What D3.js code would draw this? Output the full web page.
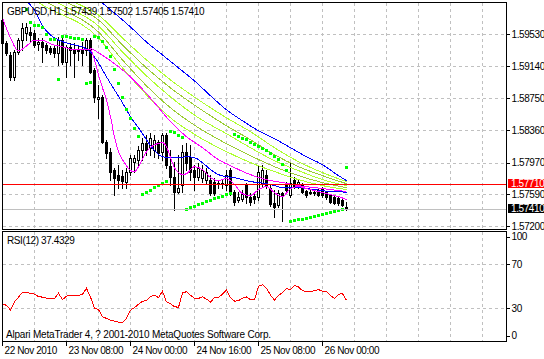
<!DOCTYPE html>
<html>
<head>
<meta charset="utf-8">
<script src="https://cdn.jsdelivr.net/npm/d3@7"></script>
<style>
  body { margin: 0; background: #fff; }
  svg { display: block; }
  svg text { font-family: "Liberation Sans", Arial, sans-serif; font-size: 10px; letter-spacing: -0.4px; fill: #000; }
  svg text.footer { letter-spacing: -0.2px; }
</style>
</head>
<body>
<div id="chart"></div>
<script>
// GBPUSD H1, one value per bar
const symbolName = "GBPUSD,H1";
const candleOpen = [
  1.59706,1.59427,1.59282,1.59016,1.59318,1.59463,1.59548,1.59560,1.59548,1.59415,
  1.59439,1.59403,1.59367,1.59367,1.59306,1.59463,1.59197,1.59379,1.59342,1.59342,
  1.59342,1.59342,1.59463,1.59100,1.58749,1.58773,1.58229,1.58108,1.57890,1.57829,
  1.57817,1.57745,1.57866,1.57987,1.58011,1.58132,1.58217,1.58156,1.58132,1.58229,
  1.58108,1.58314,1.57938,1.57805,1.57624,1.57708,1.58108,1.58047,1.57890,1.57805,
  1.57793,1.57769,1.57769,1.57745,1.57733,1.57720,1.57708,1.57890,1.57624,1.57527,
  1.57539,1.57708,1.57563,1.57575,1.57563,1.57733,1.57829,1.57672,1.57490,1.57466,
  1.57611,1.57733,1.57587,1.57769,1.57684,1.57708,1.57636,1.57624,1.57611,1.57648,
  1.57672,1.57624,1.57587,1.57563,1.57551,1.57527,1.57439];
const candleHigh = [
  1.59802,1.59451,1.59318,1.59342,1.59488,1.59669,1.59669,1.59621,1.59584,1.59488,
  1.59488,1.59427,1.59391,1.59403,1.59500,1.59500,1.59403,1.59427,1.59427,1.59403,
  1.59439,1.59488,1.59488,1.59125,1.58919,1.58798,1.58253,1.58156,1.57914,1.57950,
  1.57890,1.57914,1.58071,1.58071,1.58180,1.58277,1.58314,1.58338,1.58314,1.58253,
  1.58338,1.58338,1.58132,1.57987,1.58071,1.58192,1.58217,1.58192,1.57950,1.57975,
  1.57950,1.57914,1.57829,1.57793,1.57769,1.57769,1.57890,1.57914,1.57648,1.57624,
  1.57648,1.57733,1.57611,1.57624,1.57950,1.57950,1.57890,1.57708,1.57648,1.57648,
  1.57624,1.57745,1.57975,1.57805,1.57769,1.57733,1.57648,1.57648,1.57648,1.57672,
  1.57684,1.57636,1.57599,1.57575,1.57563,1.57551,1.57502];
const candleLow = [
  1.59391,1.59282,1.58979,1.58979,1.59294,1.59342,1.59463,1.59439,1.59379,1.59342,
  1.59197,1.59306,1.59294,1.59258,1.59161,1.59173,1.59016,1.59161,1.59016,1.59221,
  1.59161,1.59282,1.59064,1.58713,1.58519,1.58217,1.58035,1.57769,1.57587,1.57672,
  1.57672,1.57672,1.57829,1.57866,1.57950,1.58011,1.58071,1.58071,1.58047,1.58035,
  1.58011,1.57914,1.57708,1.57406,1.57611,1.57624,1.57890,1.57769,1.57648,1.57769,
  1.57745,1.57733,1.57587,1.57587,1.57672,1.57672,1.57648,1.57587,1.57466,1.57503,
  1.57515,1.57490,1.57466,1.57490,1.57527,1.57684,1.57672,1.57454,1.57321,1.57442,
  1.57261,1.57611,1.57563,1.57672,1.57672,1.57611,1.57563,1.57599,1.57587,1.57575,
  1.57563,1.57539,1.57490,1.57478,1.57466,1.57454,1.57405];
const candleClose = [
  1.59427,1.59306,1.59016,1.59318,1.59463,1.59609,1.59621,1.59524,1.59403,1.59439,
  1.59379,1.59342,1.59318,1.59306,1.59463,1.59197,1.59379,1.59342,1.59306,1.59330,
  1.59306,1.59463,1.59076,1.58773,1.58773,1.58229,1.58096,1.57866,1.57793,1.57769,
  1.57757,1.57866,1.58035,1.58035,1.58132,1.58217,1.58132,1.58277,1.58253,1.58096,
  1.58314,1.57950,1.57805,1.57624,1.57672,1.58108,1.57975,1.57866,1.57805,1.57914,
  1.57890,1.57866,1.57611,1.57611,1.57720,1.57733,1.57829,1.57624,1.57503,1.57563,
  1.57599,1.57563,1.57503,1.57539,1.57866,1.57890,1.57708,1.57478,1.57442,1.57611,
  1.57587,1.57648,1.57733,1.57684,1.57745,1.57624,1.57587,1.57611,1.57624,1.57587,
  1.57587,1.57563,1.57503,1.57490,1.57490,1.57466,1.57410];

// Parabolic SAR, null where no dot is visible
const sarValues = [
  null,null,null,null,null,null,1.59839,1.59681,1.59645,1.59645,
  1.59621,1.59536,1.59475,1.59475,1.58991,1.59512,1.59512,1.59500,1.59488,1.59488,
  1.59475,1.58943,1.58955,1.59512,1.59500,1.59451,1.59379,1.59270,1.59112,1.58943,
  1.58773,1.58628,1.58513,1.58398,1.58301,1.57599,1.57618,1.57639,1.57676,1.57700,
  1.57724,1.57748,1.58362,1.58344,1.58314,1.58281,1.57418,1.57436,1.57454,1.57472,
  1.57490,1.57509,1.57527,1.57542,1.57559,1.57575,1.57593,1.57611,1.58326,1.58301,
  1.58277,1.58259,1.58229,1.58205,1.58180,1.58156,1.58126,1.58096,1.58059,1.58023,
  1.57962,1.57890,1.57261,1.57273,1.57285,1.57297,1.57309,1.57321,1.57333,1.57345,
  1.57357,1.57369,1.57382,1.57394,1.57406,1.57418,1.57926];

// RSI(12)
const rsiValues = [
  33.7,33.0,28.5,36.2,40.3,44.8,44.3,43.9,43.0,40.9,
  40.3,39.4,39.2,39.1,43.9,38.0,41.2,42.1,41.8,41.9,
  43.0,48.4,40.3,30.3,29.0,22.6,21.0,19.5,18.6,17.6,
  17.4,21.0,28.5,30.8,33.9,36.7,37.1,40.7,42.1,39.8,
  45.7,36.0,34.4,31.7,31.0,44.3,45.2,42.1,39.4,39.1,
  40.7,38.5,36.0,39.8,40.0,43.0,47.1,39.8,36.7,37.1,
  39.4,40.5,38.0,38.0,50.2,51.6,48.4,42.1,37.6,42.1,
  44.3,48.0,47.1,50.9,49.6,46.2,45.1,45.1,46.2,47.2,
  45.7,45.7,41.6,39.1,43.0,43.4,37.4329];

// moving averages: [bar, price]
const maBlueSlow = [[20,1.60093],[24,1.59948],[28,1.59790],[32,1.59621],[36,1.59439],[40,1.59282],[44,1.59125],[48,1.58967],[52,1.58786],[56,1.58616],[60,1.58483],[64,1.58362],[68,1.58265],[72,1.58156],[76,1.58047],[80,1.57950],[84,1.57817],[86,1.57757]];
const maBlueFast = [[5,1.60044],[6,1.59948],[8,1.59827],[10,1.59633],[12,1.59524],[14,1.59463],[16,1.59427],[18,1.59403],[20,1.59379],[22,1.59318],[24,1.59185],[26,1.59016],[28,1.58858],[30,1.58701],[32,1.58531],[34,1.58398],[36,1.58253],[38,1.58120],[40,1.58047],[42,1.58035],[44,1.58035],[46,1.58047],[48,1.58035],[50,1.57975],[52,1.57890],[54,1.57829],[56,1.57805],[58,1.57793],[60,1.57769],[62,1.57745],[64,1.57733],[66,1.57720],[68,1.57696],[70,1.57672],[72,1.57672],[74,1.57672],[76,1.57660],[78,1.57648],[80,1.57636],[82,1.57624],[84,1.57624],[86,1.57611]];
const maMagentaFast = [[0,1.59730],[2,1.59488],[4,1.59330],[6,1.59391],[8,1.59463],[10,1.59463],[12,1.59415],[14,1.59391],[16,1.59367],[18,1.59342],[20,1.59342],[22,1.59342],[23,1.59221],[24,1.59040],[25,1.58882],[26,1.58737],[27,1.58531],[28,1.58289],[29,1.58108],[30,1.58011],[31,1.57938],[32,1.57878],[33,1.57866],[34,1.57926],[36,1.58108],[38,1.58192],[40,1.58217],[41,1.58168],[42,1.58035],[43,1.57914],[44,1.57854],[45,1.57829],[46,1.57841],[48,1.57926],[50,1.57890],[52,1.57793],[54,1.57757],[56,1.57781],[58,1.57708],[60,1.57599],[62,1.57575],[64,1.57648],[66,1.57684],[68,1.57611],[70,1.57563],[72,1.57660],[74,1.57684],[76,1.57660],[78,1.57636],[80,1.57611],[82,1.57587],[84,1.57563],[86,1.57527]];
const maMagentaSlow = [[22,1.59367],[26,1.59246],[30,1.59100],[34,1.58919],[38,1.58701],[42,1.58471],[46,1.58289],[50,1.58156],[54,1.58011],[58,1.57914],[62,1.57829],[66,1.57769],[70,1.57733],[74,1.57696],[78,1.57672],[82,1.57648],[86,1.57624]];
const maGreen1 = [[12,1.60069],[18,1.59923],[24,1.59766],[30,1.59488],[36,1.59221],[42,1.58979],[49,1.58737],[56,1.58519],[62,1.58350],[68,1.58156],[74,1.57987],[80,1.57854],[86,1.57745]];
const maGreen2 = [[10,1.60069],[16,1.59923],[24,1.59706],[30,1.59403],[36,1.59125],[42,1.58882],[49,1.58640],[56,1.58422],[62,1.58253],[68,1.58071],[74,1.57926],[80,1.57817],[86,1.57720]];
const maGreen3 = [[8,1.60069],[14,1.59911],[24,1.59633],[30,1.59318],[36,1.59028],[42,1.58773],[49,1.58519],[56,1.58326],[62,1.58156],[68,1.57999],[74,1.57878],[80,1.57769],[86,1.57696]];
const maGreen4 = [[6,1.60069],[12,1.59899],[24,1.59560],[30,1.59221],[36,1.58907],[42,1.58640],[49,1.58398],[56,1.58205],[62,1.58059],[68,1.57926],[74,1.57817],[80,1.57733],[86,1.57672]];
const maGreen5 = [[4,1.60069],[10,1.59887],[24,1.59488],[30,1.59125],[36,1.58798],[42,1.58519],[49,1.58289],[56,1.58108],[62,1.57975],[68,1.57866],[74,1.57769],[80,1.57696],[86,1.57648]];

const alertLevel = 1.5771;
const priceTicks = [1.5953, 1.5914, 1.5875, 1.5836, 1.5797, 1.5759, 1.5720];
const rsiTicks = [100, 70, 30, 0];
const rsiGrid = [70, 30];
const timeTickBars = [0, 16, 32, 48, 64, 80];
const timeTickLabels = ["22 Nov 2010", "23 Nov 08:00", "24 Nov 00:00", "24 Nov 16:00", "25 Nov 08:00", "26 Nov 00:00"];
const footerText = "Alpari MetaTrader 4, ? 2001-2010 MetaQuotes Software Corp.";

const svg = d3.select("#chart").append("svg")
    .attr("width", 544).attr("height", 359)
    .attr("shape-rendering", "crispEdges");

const x = d3.scaleLinear().domain([0, 126]).range([2.5, 506.5]);
const y = d3.scaleLinear().domain([1.5720, 1.5953]).range([226.5, 34.5]);
const yRsi = d3.scaleLinear().domain([0, 100]).range([341.5, 231.5]);
const px = v => Math.round(v - 0.5) + 0.5;

const defs = svg.append("defs");
defs.append("clipPath").attr("id", "clipMain").append("rect")
    .attr("x", 0).attr("y", 3).attr("width", 506).attr("height", 226);
defs.append("clipPath").attr("id", "clipRsi").append("rect")
    .attr("x", 0).attr("y", 232).attr("width", 506).attr("height", 109);

// grid
const grid = svg.append("g").attr("stroke", "#c0c0c0").attr("stroke-dasharray", "3,3");
const vBars = d3.range(8, 127, 8);
grid.selectAll(".vm").data(vBars).enter().append("line")
    .attr("x1", d => x(d)).attr("x2", d => x(d)).attr("y1", 3).attr("y2", 229);
grid.selectAll(".vr").data(vBars).enter().append("line")
    .attr("x1", d => x(d)).attr("x2", d => x(d)).attr("y1", 232).attr("y2", 341);
grid.selectAll(".hm").data(priceTicks).enter().append("line")
    .attr("x1", 3).attr("x2", 506).attr("y1", d => px(y(d))).attr("y2", d => px(y(d)));
grid.selectAll(".hr").data(rsiGrid).enter().append("line")
    .attr("x1", 3).attr("x2", 506).attr("y1", d => px(yRsi(d))).attr("y2", d => px(yRsi(d)));

// candles
const bars = d3.range(candleClose.length);
const main = svg.append("g").attr("clip-path", "url(#clipMain)");
main.selectAll(".wick").data(bars).enter().append("line")
    .attr("x1", i => x(i)).attr("x2", i => x(i))
    .attr("y1", i => Math.round(y(candleHigh[i])))
    .attr("y2", i => Math.round(y(candleLow[i])) + 1)
    .attr("stroke", "#000");

const bull = bars.filter(i => candleClose[i] >= candleOpen[i]);
const bear = bars.filter(i => candleClose[i] < candleOpen[i]);
main.selectAll(".bull").data(bull).enter().append("rect")
    .attr("x", i => x(i) - 1).attr("width", 2)
    .attr("y", i => Math.round(y(candleClose[i])) + 0.5)
    .attr("height", i => Math.max(0, Math.round(y(candleOpen[i])) - Math.round(y(candleClose[i]))))
    .attr("fill", "#fff").attr("stroke", "#000");
main.selectAll(".bear").data(bear).enter().append("rect")
    .attr("x", i => x(i) - 1.5).attr("width", 3)
    .attr("y", i => Math.round(y(candleOpen[i])))
    .attr("height", i => Math.max(1, Math.round(y(candleClose[i])) - Math.round(y(candleOpen[i])) + 1))
    .attr("fill", "#000");

// moving averages
const maLine = d3.line().x(d => x(d[0])).y(d => y(d[1])).curve(d3.curveMonotoneX);
const maSeries = [
  [maGreen1, "#adff2f"], [maGreen2, "#9acd32"], [maGreen3, "#adff2f"],
  [maGreen4, "#9acd32"], [maGreen5, "#adff2f"],
  [maBlueSlow, "#0000ff"], [maMagentaSlow, "#ff00ff"],
  [maBlueFast, "#0000ff"], [maMagentaFast, "#ff00ff"]
];
main.selectAll(".ma").data(maSeries).enter().append("path")
    .attr("d", d => maLine(d[0]))
    .attr("fill", "none").attr("stroke", d => d[1]).attr("stroke-width", 1);

// parabolic SAR
main.selectAll(".sar").data(bars.filter(i => sarValues[i] != null)).enter().append("rect")
    .attr("x", i => x(i) - 1.5).attr("width", 3)
    .attr("y", i => Math.round(y(sarValues[i])) - 1).attr("height", 3)
    .attr("fill", "#00ff00");

// alert line and bid line
const lastClose = candleClose[candleClose.length - 1];
main.append("line").attr("x1", 3).attr("x2", 506)
    .attr("y1", px(y(alertLevel))).attr("y2", px(y(alertLevel))).attr("stroke", "#ff0000");
main.append("line").attr("x1", 3).attr("x2", 506)
    .attr("y1", px(y(lastClose))).attr("y2", px(y(lastClose))).attr("stroke", "#c0c0c0");

// RSI
const rsiLine = d3.line().x((d, i) => x(i)).y(d => yRsi(d));
svg.append("path").attr("clip-path", "url(#clipRsi)")
    .attr("d", rsiLine(rsiValues))
    .attr("fill", "none").attr("stroke", "#ff0000");

// frames
svg.append("rect").attr("x", 2.5).attr("y", 2.5).attr("width", 504).attr("height", 227)
    .attr("fill", "none").attr("stroke", "#000");
svg.append("rect").attr("x", 2.5).attr("y", 231.5).attr("width", 504).attr("height", 110)
    .attr("fill", "none").attr("stroke", "#000");

// price axis
const fmt5 = d3.format(".5f");
svg.append("g").attr("transform", "translate(506.5,0)")
    .call(d3.axisRight(y).tickValues(priceTicks).tickFormat(fmt5).tickSize(3).tickPadding(2).offset(0))
    .call(g => g.select(".domain").remove());

// price labels on the axis
const tagData = [[alertLevel, "#ff0000"], [lastClose, "#000000"]];
const tags = svg.append("g");
tags.selectAll("rect").data(tagData).enter().append("rect")
    .attr("x", 508).attr("width", 36)
    .attr("y", d => Math.floor(px(y(d[0]))) - 5).attr("height", 9)
    .attr("fill", d => d[1]);
tags.selectAll("text").data(tagData).enter().append("text")
    .attr("x", 511).attr("y", d => Math.floor(px(y(d[0]))) + 3)
    .style("fill", "#fff").text(d => fmt5(d[0]));

// RSI axis
svg.append("g").attr("transform", "translate(506.5,0)")
    .call(d3.axisRight(yRsi).tickValues(rsiTicks).tickFormat(d3.format("d")).tickSize(3).tickPadding(2).offset(0))
    .call(g => g.select(".domain").remove())
    .call(g => g.selectAll(".tick").attr("transform", d =>
        "translate(0," + (d === 100 ? yRsi(d) + 5.5 : d === 0 ? yRsi(d) - 5.5 : yRsi(d)) + ")"));

// time axis
svg.append("g").attr("transform", "translate(0,342)")
    .call(d3.axisBottom(x).tickValues(timeTickBars).tickFormat((d, i) => timeTickLabels[i]).tickSize(4).offset(0))
    .call(g => g.select(".domain").remove())
    .call(g => g.selectAll("text").attr("text-anchor", "start").attr("x", 2).attr("y", 12).attr("dy", null));

// labels
svg.append("text").attr("x", 7).attr("y", 15)
    .text(symbolName + " " + [candleOpen, candleHigh, candleLow, candleClose]
        .map(a => fmt5(a[a.length - 1])).join(" "));
svg.append("text").attr("x", 7).attr("y", 244)
    .text("RSI(12) " + d3.format(".4f")(rsiValues[rsiValues.length - 1]));
svg.append("text").attr("class", "footer").attr("x", 6).attr("y", 338).text(footerText);
</script>
</body>
</html>
